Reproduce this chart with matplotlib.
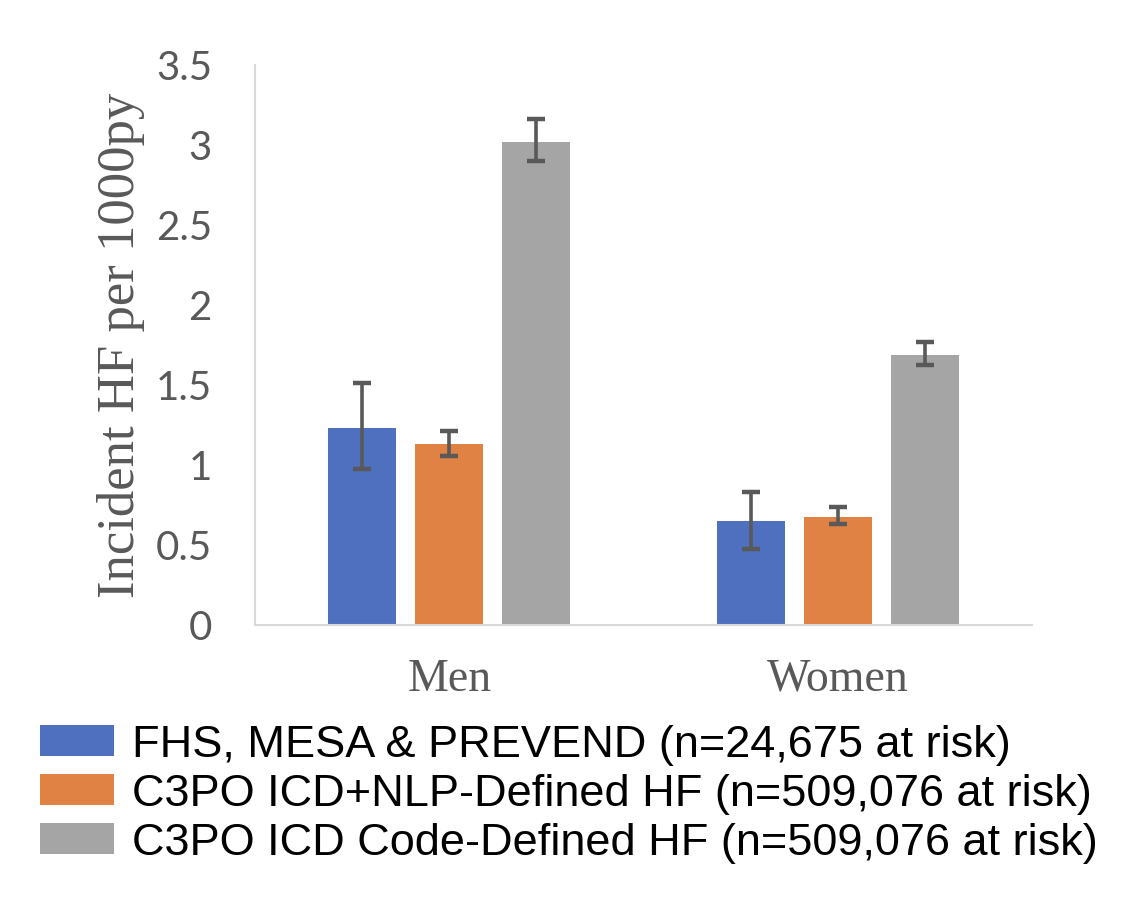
import numpy as np
import matplotlib.pyplot as plt

# data
groups = ['Men', 'Women']
series = ['FHS, MESA & PREVEND (n=24,675 at risk)',
          'C3PO ICD+NLP-Defined HF (n=509,076 at risk)',
          'C3PO ICD Code-Defined HF (n=509,076 at risk)']
rates = [[1.23, 0.65],
         [1.13, 0.675],
         [3.02, 1.69]]
ci_low = [[0.975, 0.475],
          [1.055, 0.63],
          [2.90, 1.625]]
ci_high = [[1.51, 0.83],
           [1.21, 0.735],
           [3.16, 1.77]]
colors = ['#4e70be', '#df8244', '#a5a5a5']

fig = plt.figure(figsize=(11.32, 9), dpi=100)
ax = fig.add_axes([0.2253, 0.3056, 0.6864, 0.6222])

x = np.arange(len(groups))
width = 0.175
step = 0.224
bars = []
for i, (vals, lo, hi, c) in enumerate(zip(rates, ci_low, ci_high, colors)):
    vals = np.array(vals)
    yerr = [vals - np.array(lo), np.array(hi) - vals]
    b = ax.bar(x + (i - 1) * step, vals, width, color=c, label=series[i],
               yerr=yerr, error_kw=dict(ecolor='#595959', elinewidth=2.6,
                                        capsize=6.5, capthick=3.2))
    bars.append(b)

ax.set_xlim(-0.5, 1.5)
ax.set_ylim(0, 3.5)
ax.set_yticks(np.arange(0, 3.51, 0.5))
ax.set_yticklabels(['0', '0.5', '1', '1.5', '2', '2.5', '3', '3.5'])
ax.set_xticks(x)
ax.set_xticklabels(groups, family='Liberation Serif', fontsize=33, color='#595959')

for lab in ax.get_yticklabels():
    lab.set_family('Lato')
    lab.set_fontsize(29)
    lab.set_color('#595959')
ax.tick_params(axis='y', length=0, pad=31)
ax.tick_params(axis='x', length=0, pad=24)

for s in ['top', 'right']:
    ax.spines[s].set_visible(False)
for s in ['left', 'bottom']:
    ax.spines[s].set_color('#d9d9d9')
    ax.spines[s].set_linewidth(1.5)

ax.set_ylabel('Incident HF per 1000py', family='Liberation Serif',
              fontsize=38, color='#595959')
ax.yaxis.set_label_coords(-0.142, 0.5)

fig.legend(handles=bars, labels=series, loc='upper left',
           bbox_to_anchor=(0.019, 0.215), frameon=False,
           prop={'family': 'Liberation Sans', 'size': 32.5},
           handlelength=1.65, handleheight=0.68, handletextpad=0.4,
           labelspacing=0.18, borderaxespad=0)

fig.savefig('out.png', dpi=100)
